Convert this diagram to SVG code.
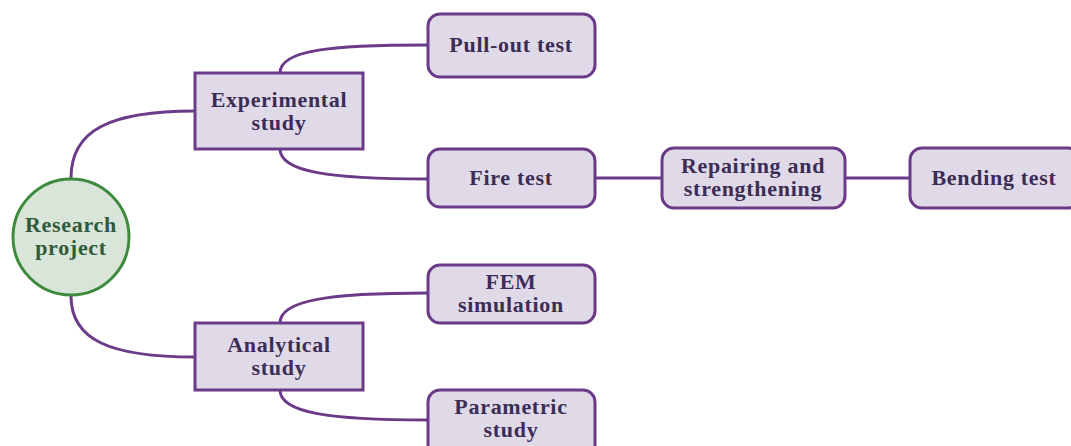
<svg xmlns="http://www.w3.org/2000/svg" width="1071" height="446" viewBox="0 0 1071 446">
<style>
.box{fill:#e0d9e8;stroke:#6b3a88;stroke-width:3}
.c{fill:none;stroke:#6b3a88;stroke-width:3}
text{font-family:"Liberation Serif","Times New Roman",serif;font-weight:bold;font-size:22px;letter-spacing:0.7px;fill:#3b2d55;text-anchor:middle}
.g{fill:#2f5a3c}
</style>
<rect width="1071" height="446" fill="#ffffff"/>
<g id="connectors">
<path class="c" d="M71,178 C71,130 110,111 195,111"/>
<path class="c" d="M71,296 C71,340 110,357 195,357"/>
<path class="c" d="M280,73 C280,50 330,45 428,45"/>
<path class="c" d="M280,149 C280,172 330,179 428,179"/>
<path class="c" d="M280,323 C280,300 330,293 428,293"/>
<path class="c" d="M280,390 C280,413 330,420 428,420"/>
<path class="c" d="M595,178 H662"/>
<path class="c" d="M845,178 H910"/>
</g>
<g id="research">
<circle cx="71" cy="237" r="58" fill="#d9e5d9" stroke="#3d8a3d" stroke-width="3"/>
<text class="g" x="71" y="232">Research</text>
<text class="g" x="71" y="255">project</text>
</g>
<g id="experimental">
<rect class="box" x="195" y="73" width="168" height="76"/>
<text x="279" y="107">Experimental</text>
<text x="279" y="130">study</text>
</g>
<g id="pullout">
<rect class="box" x="428" y="14" width="167" height="63" rx="12"/>
<text x="511" y="52">Pull-out test</text>
</g>
<g id="fire">
<rect class="box" x="428" y="149" width="167" height="58" rx="12"/>
<text x="511" y="185">Fire test</text>
</g>
<g id="repairing">
<rect class="box" x="662" y="148" width="183" height="60" rx="12"/>
<text x="753" y="173">Repairing and</text>
<text x="753" y="196">strengthening</text>
</g>
<g id="bending">
<rect class="box" x="910" y="148" width="170" height="60" rx="12"/>
<text x="994" y="185">Bending test</text>
</g>
<g id="analytical">
<rect class="box" x="195" y="323" width="168" height="67"/>
<text x="279" y="352">Analytical</text>
<text x="279" y="375">study</text>
</g>
<g id="fem">
<rect class="box" x="428" y="265" width="167" height="58" rx="12"/>
<text x="511" y="289">FEM</text>
<text x="511" y="312">simulation</text>
</g>
<g id="parametric">
<rect class="box" x="428" y="390" width="167" height="70" rx="12"/>
<text x="511" y="414">Parametric</text>
<text x="511" y="437">study</text>
</g>
</svg>
